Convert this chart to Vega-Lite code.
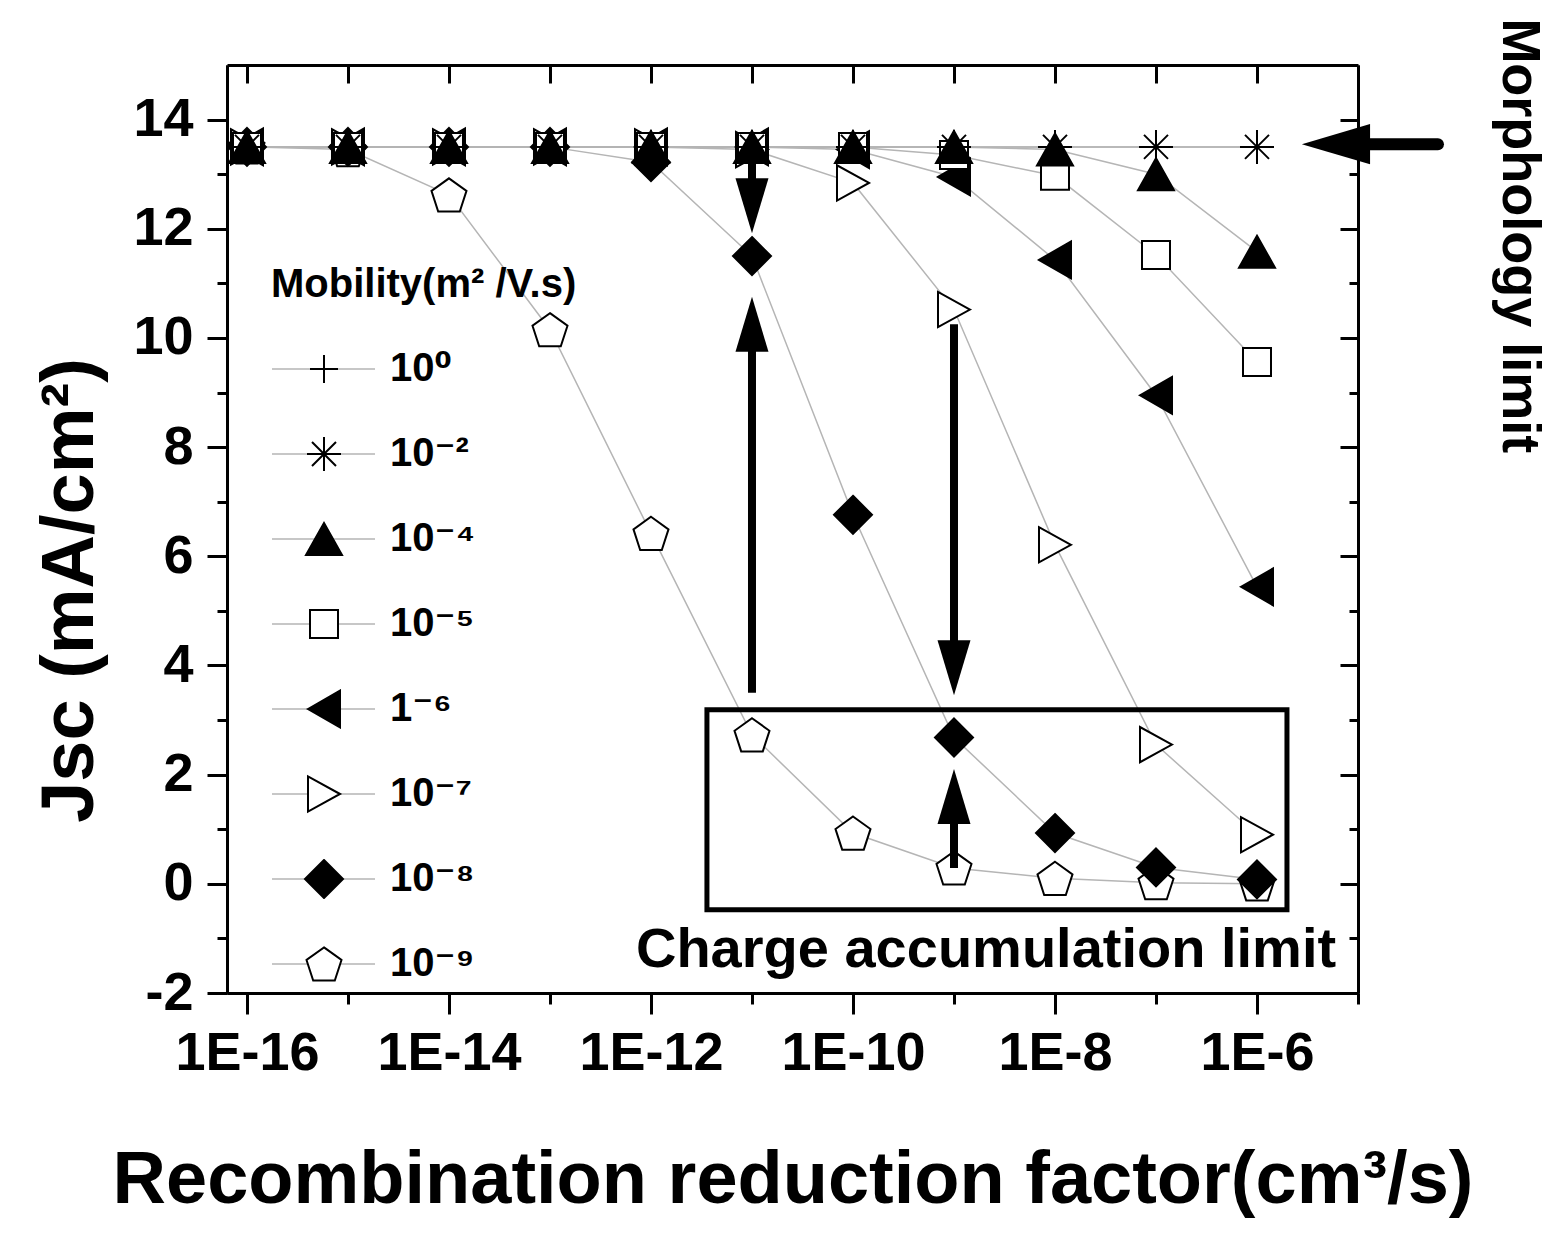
{
  "$schema": "https://vega.github.io/schema/vega-lite/v6.json",
  "autosize": {"type": "none"},
  "width": 1131,
  "height": 928,
  "padding": {"left": 227, "top": 65, "right": 197, "bottom": 246},
  "background": "white",
  "config": {
    "view": {"stroke": null},
    "font": "Liberation Sans",
    "axis": {
      "grid": false, "domainColor": "black", "domainWidth": 3, "tickColor": "black", "tickWidth": 3,
      "labelColor": "black", "labelFont": "Liberation Sans", "labelFontWeight": "bold", "labelFontSize": 54,
      "labelFlush": false, "labelOverlap": false,
      "titleFont": "Liberation Sans", "titleFontWeight": "bold", "titleColor": "black"
    },
    "legend": {
      "orient": "none", "padding": 0,
      "titleFont": "Liberation Sans", "titleFontWeight": "bold", "titleFontSize": 40, "titleColor": "black",
      "labelFont": "Liberation Sans, DejaVu Sans", "labelFontWeight": "bold", "labelFontSize": 40, "labelColor": "black",
      "titlePadding": 44, "rowPadding": 45, "titleLimit": 2000, "labelLimit": 2000, "clipHeight": 40
    }
  },
  "datasets": {
    "main": [
      {"mob": "10⁻⁹", "r": 1e-16, "jsc": 13.5}, {"mob": "10⁻⁹", "r": 1e-15, "jsc": 13.45}, {"mob": "10⁻⁹", "r": 1e-14, "jsc": 12.62},
      {"mob": "10⁻⁹", "r": 1e-13, "jsc": 10.15}, {"mob": "10⁻⁹", "r": 1e-12, "jsc": 6.42}, {"mob": "10⁻⁹", "r": 1e-11, "jsc": 2.73},
      {"mob": "10⁻⁹", "r": 1e-10, "jsc": 0.93}, {"mob": "10⁻⁹", "r": 1e-9, "jsc": 0.29}, {"mob": "10⁻⁹", "r": 1e-8, "jsc": 0.1},
      {"mob": "10⁻⁹", "r": 1e-7, "jsc": 0.02}, {"mob": "10⁻⁹", "r": 1e-6, "jsc": 0.0},
      {"mob": "10⁻⁸", "r": 1e-16, "jsc": 13.5}, {"mob": "10⁻⁸", "r": 1e-15, "jsc": 13.5}, {"mob": "10⁻⁸", "r": 1e-14, "jsc": 13.5},
      {"mob": "10⁻⁸", "r": 1e-13, "jsc": 13.5}, {"mob": "10⁻⁸", "r": 1e-12, "jsc": 13.22}, {"mob": "10⁻⁸", "r": 1e-11, "jsc": 11.5},
      {"mob": "10⁻⁸", "r": 1e-10, "jsc": 6.76}, {"mob": "10⁻⁸", "r": 1e-9, "jsc": 2.68}, {"mob": "10⁻⁸", "r": 1e-8, "jsc": 0.93},
      {"mob": "10⁻⁸", "r": 1e-7, "jsc": 0.3}, {"mob": "10⁻⁸", "r": 1e-6, "jsc": 0.08},
      {"mob": "10⁻⁷", "r": 1e-16, "jsc": 13.5}, {"mob": "10⁻⁷", "r": 1e-15, "jsc": 13.5}, {"mob": "10⁻⁷", "r": 1e-14, "jsc": 13.5},
      {"mob": "10⁻⁷", "r": 1e-13, "jsc": 13.5}, {"mob": "10⁻⁷", "r": 1e-12, "jsc": 13.5}, {"mob": "10⁻⁷", "r": 1e-11, "jsc": 13.45},
      {"mob": "10⁻⁷", "r": 1e-10, "jsc": 12.84}, {"mob": "10⁻⁷", "r": 1e-9, "jsc": 10.52}, {"mob": "10⁻⁷", "r": 1e-8, "jsc": 6.21},
      {"mob": "10⁻⁷", "r": 1e-7, "jsc": 2.55}, {"mob": "10⁻⁷", "r": 1e-6, "jsc": 0.9},
      {"mob": "1⁻⁶", "r": 1e-16, "jsc": 13.5}, {"mob": "1⁻⁶", "r": 1e-15, "jsc": 13.5}, {"mob": "1⁻⁶", "r": 1e-14, "jsc": 13.5},
      {"mob": "1⁻⁶", "r": 1e-13, "jsc": 13.5}, {"mob": "1⁻⁶", "r": 1e-12, "jsc": 13.5}, {"mob": "1⁻⁶", "r": 1e-11, "jsc": 13.5},
      {"mob": "1⁻⁶", "r": 1e-10, "jsc": 13.45}, {"mob": "1⁻⁶", "r": 1e-9, "jsc": 12.95}, {"mob": "1⁻⁶", "r": 1e-8, "jsc": 11.43},
      {"mob": "1⁻⁶", "r": 1e-7, "jsc": 8.95}, {"mob": "1⁻⁶", "r": 1e-6, "jsc": 5.44},
      {"mob": "10⁻⁵", "r": 1e-16, "jsc": 13.5}, {"mob": "10⁻⁵", "r": 1e-15, "jsc": 13.5}, {"mob": "10⁻⁵", "r": 1e-14, "jsc": 13.5},
      {"mob": "10⁻⁵", "r": 1e-13, "jsc": 13.5}, {"mob": "10⁻⁵", "r": 1e-12, "jsc": 13.5}, {"mob": "10⁻⁵", "r": 1e-11, "jsc": 13.5},
      {"mob": "10⁻⁵", "r": 1e-10, "jsc": 13.5}, {"mob": "10⁻⁵", "r": 1e-9, "jsc": 13.35}, {"mob": "10⁻⁵", "r": 1e-8, "jsc": 12.97},
      {"mob": "10⁻⁵", "r": 1e-7, "jsc": 11.52}, {"mob": "10⁻⁵", "r": 1e-6, "jsc": 9.56},
      {"mob": "10⁻⁴", "r": 1e-16, "jsc": 13.5}, {"mob": "10⁻⁴", "r": 1e-15, "jsc": 13.5}, {"mob": "10⁻⁴", "r": 1e-14, "jsc": 13.5},
      {"mob": "10⁻⁴", "r": 1e-13, "jsc": 13.5}, {"mob": "10⁻⁴", "r": 1e-12, "jsc": 13.5}, {"mob": "10⁻⁴", "r": 1e-11, "jsc": 13.5},
      {"mob": "10⁻⁴", "r": 1e-10, "jsc": 13.5}, {"mob": "10⁻⁴", "r": 1e-9, "jsc": 13.5}, {"mob": "10⁻⁴", "r": 1e-8, "jsc": 13.45},
      {"mob": "10⁻⁴", "r": 1e-7, "jsc": 13.0}, {"mob": "10⁻⁴", "r": 1e-6, "jsc": 11.58},
      {"mob": "10⁻²", "r": 1e-16, "jsc": 13.5}, {"mob": "10⁻²", "r": 1e-15, "jsc": 13.5}, {"mob": "10⁻²", "r": 1e-14, "jsc": 13.5},
      {"mob": "10⁻²", "r": 1e-13, "jsc": 13.5}, {"mob": "10⁻²", "r": 1e-12, "jsc": 13.5}, {"mob": "10⁻²", "r": 1e-11, "jsc": 13.5},
      {"mob": "10⁻²", "r": 1e-10, "jsc": 13.5}, {"mob": "10⁻²", "r": 1e-9, "jsc": 13.5}, {"mob": "10⁻²", "r": 1e-8, "jsc": 13.5},
      {"mob": "10⁻²", "r": 1e-7, "jsc": 13.5}, {"mob": "10⁻²", "r": 1e-6, "jsc": 13.5},
      {"mob": "10⁰", "r": 1e-16, "jsc": 13.5}, {"mob": "10⁰", "r": 1e-15, "jsc": 13.5}, {"mob": "10⁰", "r": 1e-14, "jsc": 13.5},
      {"mob": "10⁰", "r": 1e-13, "jsc": 13.5}, {"mob": "10⁰", "r": 1e-12, "jsc": 13.5}, {"mob": "10⁰", "r": 1e-11, "jsc": 13.5},
      {"mob": "10⁰", "r": 1e-10, "jsc": 13.5}, {"mob": "10⁰", "r": 1e-9, "jsc": 13.5}, {"mob": "10⁰", "r": 1e-8, "jsc": 13.5},
      {"mob": "10⁰", "r": 1e-7, "jsc": 13.5}, {"mob": "10⁰", "r": 1e-6, "jsc": 13.5}
    ],
    "box": [{"x": 3.58e-12, "x2": 1.98e-6, "y": 3.19, "y2": -0.476}],
    "vshafts": [
      {"x": 1e-11, "y": 13.5, "y2": 12.85},
      {"x": 1e-11, "y": 3.5, "y2": 9.85},
      {"x": 1e-9, "y": 10.25, "y2": 4.4},
      {"x": 1e-9, "y": 0.29, "y2": 1.2}
    ],
    "hshaft": [{"x": 1.315e-5, "x2": 6.19e-5, "y": 13.55}],
    "headsdown": [{"x": 1e-11, "y": 12.42}, {"x": 1e-9, "y": 3.96}],
    "headsup": [{"x": 1e-11, "y": 10.25}, {"x": 1e-9, "y": 1.6}],
    "headleft": [{"x": 6.05e-6, "y": 13.55}],
    "labels": [
      {"x": 2.075e-9, "y": -1.52, "text": "Charge accumulation limit"}
    ],
    "sidelabel": [
      {"x": 2.73e-4, "y": 11.87, "text": "Morphology limit"}
    ]
  },
  "resolve": {"axis": {"x": "independent", "y": "independent"}},
  "layer": [
    {
      "data": {"name": "main"},
      "mark": {"type": "line", "strokeWidth": 1.5},
      "encoding": {
        "x": {"field": "r", "type": "quantitative",
          "scale": {"type": "log", "domain": [6.34e-17, 1e-5], "nice": false},
          "axis": {"orient": "bottom", "values": [1e-16, 1e-14, 1e-12, 1e-10, 1e-8, 1e-6], "tickSize": 21,
            "labelPadding": 12, "labelExpr": "'1E' + round(log(datum.value) / LN10)",
            "title": "Recombination reduction factor(cm³/s)", "titleFontSize": 74, "titleY": 209,
            "titleBaseline": "alphabetic", "titleAlign": "center"}},
        "y": {"field": "jsc", "type": "quantitative",
          "scale": {"domain": [-2, 15], "nice": false, "zero": false},
          "axis": {"orient": "left", "values": [-2, 0, 2, 4, 6, 8, 10, 12, 14], "tickSize": 20, "labelPadding": 14,
            "labelExpr": "'' + datum.value",
            "title": "Jsc (mA/cm²)", "titleFontSize": 74, "titleAngle": 270, "titleX": -135, "titleY": 525,
            "titleBaseline": "alphabetic", "titleAlign": "center"}},
        "stroke": {"field": "mob", "type": "nominal",
          "sort": ["10⁰", "10⁻²", "10⁻⁴", "10⁻⁵", "1⁻⁶", "10⁻⁷", "10⁻⁸", "10⁻⁹"],
          "scale": {"range": ["#b5b5b5", "#b5b5b5", "#b5b5b5", "#b5b5b5", "#b5b5b5", "#b5b5b5", "#b5b5b5", "#b5b5b5"]},
          "title": "Mobility(m² /V.s)",
          "legend": {"orient": "none", "legendX": 44, "legendY": 200, "symbolType": "stroke", "symbolSize": 10609,
            "symbolStrokeWidth": 1.5, "labelExpr": "''", "zindex": 0}}
      }
    },
    {
      "data": {"name": "main"},
      "mark": {"type": "point", "filled": false, "stroke": "black", "strokeWidth": 2, "size": 1600, "opacity": 1},
      "encoding": {
        "x": {"field": "r", "type": "quantitative",
          "axis": {"orient": "bottom", "values": [1e-15, 1e-13, 1e-11, 1e-9, 1e-7, 1e-5], "tickSize": 11,
            "labels": false, "title": null}},
        "y": {"field": "jsc", "type": "quantitative",
          "axis": {"orient": "left", "values": [-1, 1, 3, 5, 7, 9, 11, 13], "tickSize": 10, "labels": false, "title": null}},
        "shape": {"field": "mob", "type": "nominal",
          "scale": {"domain": ["10⁰", "10⁻²", "10⁻⁴", "10⁻⁵", "1⁻⁶", "10⁻⁷", "10⁻⁸", "10⁻⁹"],
            "range": [
              "M-0.7,0L0.7,0M0,-0.7L0,0.7",
              "M-0.85,0L0.85,0M0,-0.85L0,0.85M-0.6,-0.6L0.6,0.6M-0.6,0.6L0.6,-0.6",
              "M0,-0.8L0.9,0.8L-0.9,0.8Z",
              "M-0.7,-0.7L0.7,-0.7L0.7,0.7L-0.7,0.7Z",
              "M-0.8,0L0.8,-0.92L0.8,0.92Z",
              "M0.8,0L-0.8,-0.88L-0.8,0.88Z",
              "M0,-0.95L0.95,0L0,0.95L-0.95,0Z",
              "M0,-0.83L0.875,-0.2L0.54,0.83L-0.54,0.83L-0.875,-0.2Z"
            ]},
          "title": null,
          "legend": {"orient": "none", "legendX": 76, "legendY": 284, "symbolSize": 1600, "symbolStrokeWidth": 2,
            "labelOffset": 45, "zindex": 1,
            "encode": {"symbols": {"stroke": {"value": "black"}, "strokeOpacity": {"value": 1}, "strokeWidth": {"value": 2}}}}},
        "fill": {"field": "mob", "type": "nominal",
          "scale": {"domain": ["10⁰", "10⁻²", "10⁻⁴", "10⁻⁵", "1⁻⁶", "10⁻⁷", "10⁻⁸", "10⁻⁹"],
            "range": ["black", "black", "black", "white", "black", "white", "black", "white"]},
          "title": null,
          "legend": {"orient": "none", "legendX": 76, "legendY": 284, "symbolSize": 1600, "symbolStrokeWidth": 2,
            "labelOffset": 45, "zindex": 1,
            "encode": {"symbols": {"stroke": {"value": "black"}, "strokeOpacity": {"value": 1}, "strokeWidth": {"value": 2}}}}}
      }
    },
    {
      "data": {"name": "box"},
      "mark": {"type": "rect", "filled": false, "stroke": "black", "strokeWidth": 5},
      "encoding": {
        "x": {"field": "x", "type": "quantitative",
          "axis": {"orient": "top", "values": [1e-16, 1e-15, 1e-14, 1e-13, 1e-12, 1e-11, 1e-10, 1e-9, 1e-8, 1e-7, 1e-6],
            "tickSize": -18, "labels": false, "title": null}},
        "x2": {"field": "x2"},
        "y": {"field": "y", "type": "quantitative",
          "axis": {"orient": "right", "values": [-2, 0, 2, 4, 6, 8, 10, 12, 14], "tickSize": -18, "labels": false, "title": null}},
        "y2": {"field": "y2"}
      }
    },
    {
      "data": {"name": "vshafts"},
      "mark": {"type": "rule", "color": "black", "strokeWidth": 8},
      "encoding": {
        "x": {"field": "x", "type": "quantitative", "axis": null},
        "y": {"field": "y", "type": "quantitative",
          "axis": {"orient": "right", "values": [-1, 1, 3, 5, 7, 9, 11, 13], "tickSize": -9, "labels": false, "title": null}},
        "y2": {"field": "y2"}
      }
    },
    {
      "data": {"name": "hshaft"},
      "mark": {"type": "rule", "color": "black", "strokeWidth": 12, "strokeCap": "round"},
      "encoding": {
        "x": {"field": "x", "type": "quantitative", "axis": null},
        "x2": {"field": "x2"},
        "y": {"field": "y", "type": "quantitative", "axis": null}
      }
    },
    {
      "data": {"name": "headsdown"},
      "mark": {"type": "point", "shape": "M0,1L-0.6,-1L0.6,-1Z", "filled": true, "color": "black", "size": 3025, "opacity": 1},
      "encoding": {
        "x": {"field": "x", "type": "quantitative", "axis": null},
        "y": {"field": "y", "type": "quantitative", "axis": null}
      }
    },
    {
      "data": {"name": "headsup"},
      "mark": {"type": "point", "shape": "M0,-1L-0.6,1L0.6,1Z", "filled": true, "color": "black", "size": 3025, "opacity": 1},
      "encoding": {
        "x": {"field": "x", "type": "quantitative", "axis": null},
        "y": {"field": "y", "type": "quantitative", "axis": null}
      }
    },
    {
      "data": {"name": "headleft"},
      "mark": {"type": "point", "shape": "M-1.24,0L1.24,-0.73L1.24,0.73Z", "filled": true, "color": "black", "size": 3025, "opacity": 1},
      "encoding": {
        "x": {"field": "x", "type": "quantitative", "axis": null},
        "y": {"field": "y", "type": "quantitative", "axis": null}
      }
    },
    {
      "data": {"name": "labels"},
      "mark": {"type": "text", "font": "Liberation Sans", "fontWeight": "bold", "fontSize": 56, "color": "black",
        "align": "center", "baseline": "alphabetic"},
      "encoding": {
        "x": {"field": "x", "type": "quantitative", "axis": null},
        "y": {"field": "y", "type": "quantitative", "axis": null},
        "text": {"field": "text"}
      }
    },
    {
      "data": {"name": "sidelabel"},
      "mark": {"type": "text", "font": "Liberation Sans", "fontWeight": "bold", "fontSize": 54, "color": "black",
        "align": "center", "baseline": "alphabetic", "angle": 90},
      "encoding": {
        "x": {"field": "x", "type": "quantitative", "axis": null},
        "y": {"field": "y", "type": "quantitative", "axis": null},
        "text": {"field": "text"}
      }
    }
  ]
}
